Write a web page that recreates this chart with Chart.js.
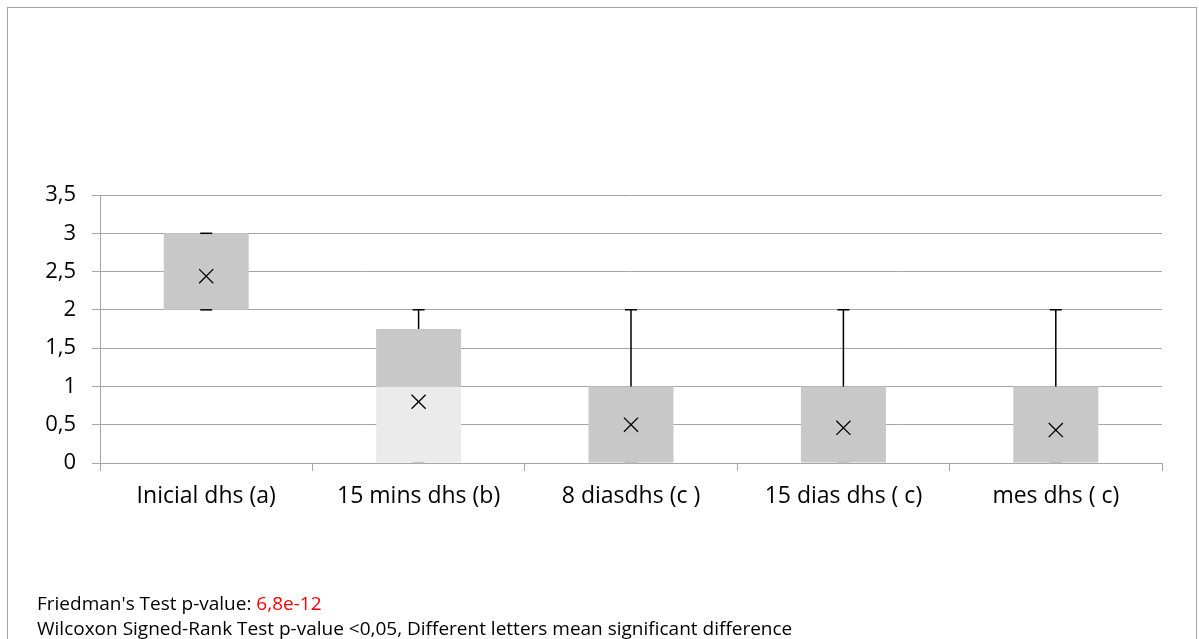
<!DOCTYPE html>
<html>
<head>
<meta charset="utf-8">
<script src="https://cdn.jsdelivr.net/npm/chart.js@4/dist/chart.umd.min.js"></script>
<style>
  html, body { margin: 0; padding: 0; background: #fff; overflow: hidden; }
  #wrap { position: relative; width: 1199px; height: 639px; overflow: hidden; }
  #frame { position: absolute; left: 7px; top: 7px; width: 1190px; height: 645px; border: 1px solid #a6a6a6; box-sizing: border-box; }
  #boxChart { position: absolute; left: 0; top: 0; }
  .note { position: absolute; left: 37px; font-family: "Open Sans", sans-serif; font-size: 19px; line-height: 19px; color: #000; white-space: nowrap; }
</style>
</head>
<body>
<div id="wrap">
  <div id="frame"></div>
  <canvas id="boxChart" width="1199" height="639"></canvas>
  <div class="note" style="top:594px">Friedman's Test p-value: <span style="color:#ff0000">6,8e-12</span></div>
  <div class="note" style="top:619px">Wilcoxon Signed-Rank Test p-value &lt;0,05, Different letters mean significant difference</div>
</div>
<script>
// box plot data
const categories = ['Inicial dhs (a)', '15 mins dhs (b)', '8 diasdhs (c )', '15 dias dhs ( c)', 'mes dhs ( c)'];
const minVals = [2, 0, 0, 0, 0];
const q1Vals = [2, 0, 0, 0, 0];
const medianVals = [2, 1, 0, 0, 0];
const q3Vals = [3, 1.75, 1, 1, 1];
const maxVals = [3, 2, 2, 2, 2];
const meanVals = [2.44, 0.8, 0.5, 0.46, 0.43];
const yTicks = [0, 0.5, 1, 1.5, 2, 2.5, 3, 3.5];

// whiskers drawn with the chart's own scales
const whiskers = {
  id: 'whiskers',
  afterDatasetsDraw(chart) {
    const ctx = chart.ctx;
    const y = chart.scales.y;
    const meta = chart.getDatasetMeta(1);
    ctx.save();
    ctx.lineWidth = 1.5;
    meta.data.forEach((bar, i) => {
      const x = bar.x;
      const cap = 6;
      ctx.strokeStyle = '#000';
      ctx.beginPath();
      ctx.moveTo(x, y.getPixelForValue(q3Vals[i]));
      ctx.lineTo(x, y.getPixelForValue(maxVals[i]));
      ctx.moveTo(x, y.getPixelForValue(q1Vals[i]));
      ctx.lineTo(x, y.getPixelForValue(minVals[i]));
      ctx.moveTo(x - cap, y.getPixelForValue(maxVals[i]));
      ctx.lineTo(x + cap, y.getPixelForValue(maxVals[i]));
      ctx.stroke();
      ctx.beginPath();
      ctx.strokeStyle = minVals[i] === 0 ? '#b0b0b0' : '#000';
      ctx.moveTo(x - cap, y.getPixelForValue(minVals[i]));
      ctx.lineTo(x + cap, y.getPixelForValue(minVals[i]));
      ctx.stroke();
    });
    ctx.restore();
  }
};

const ctx = document.getElementById('boxChart');
new Chart(ctx, {
  type: 'bar',
  data: {
    labels: categories,
    datasets: [
      {
        label: 'lower',
        data: q1Vals.map((v, i) => [v, medianVals[i]]),
        backgroundColor: '#ebebeb',
        grouped: false,
        barPercentage: 0.4,
        categoryPercentage: 1,
        order: 3
      },
      {
        label: 'upper',
        data: medianVals.map((v, i) => [v, q3Vals[i]]),
        backgroundColor: '#c8c8c8',
        grouped: false,
        barPercentage: 0.4,
        categoryPercentage: 1,
        order: 2
      },
      {
        type: 'line',
        label: 'mean',
        data: meanVals,
        showLine: false,
        pointStyle: 'crossRot',
        pointRadius: 10,
        pointBorderColor: '#000',
        pointBorderWidth: 1.3,
        order: 1
      }
    ]
  },
  options: {
    responsive: false,
    animation: false,
    layout: { padding: { left: 0, right: 37, top: 195, bottom: 116 } },
    plugins: { legend: { display: false }, tooltip: { enabled: false } },
    scales: {
      x: {
        afterFit(s) { s.height = 60; },
        grid: { drawOnChartArea: false, offset: true, tickLength: 8, color: '#a6a6a6' },
        border: { color: '#a6a6a6' },
        ticks: { padding: 12, color: '#000', font: { family: 'Open Sans', size: 23 } }
      },
      y: {
        min: 0,
        max: 3.5,
        afterFit(s) { s.width = 100; },
        afterBuildTicks(s) { s.ticks = yTicks.map(v => ({ value: v })); },
        grid: { color: '#a6a6a6', tickLength: 8 },
        border: { color: '#a6a6a6' },
        ticks: {
          padding: 16,
          color: '#000',
          font: { family: 'Open Sans', size: 22 },
          callback: v => String(v).replace('.', ',')
        }
      }
    }
  },
  plugins: [whiskers]
});
</script>
</body>
</html>
